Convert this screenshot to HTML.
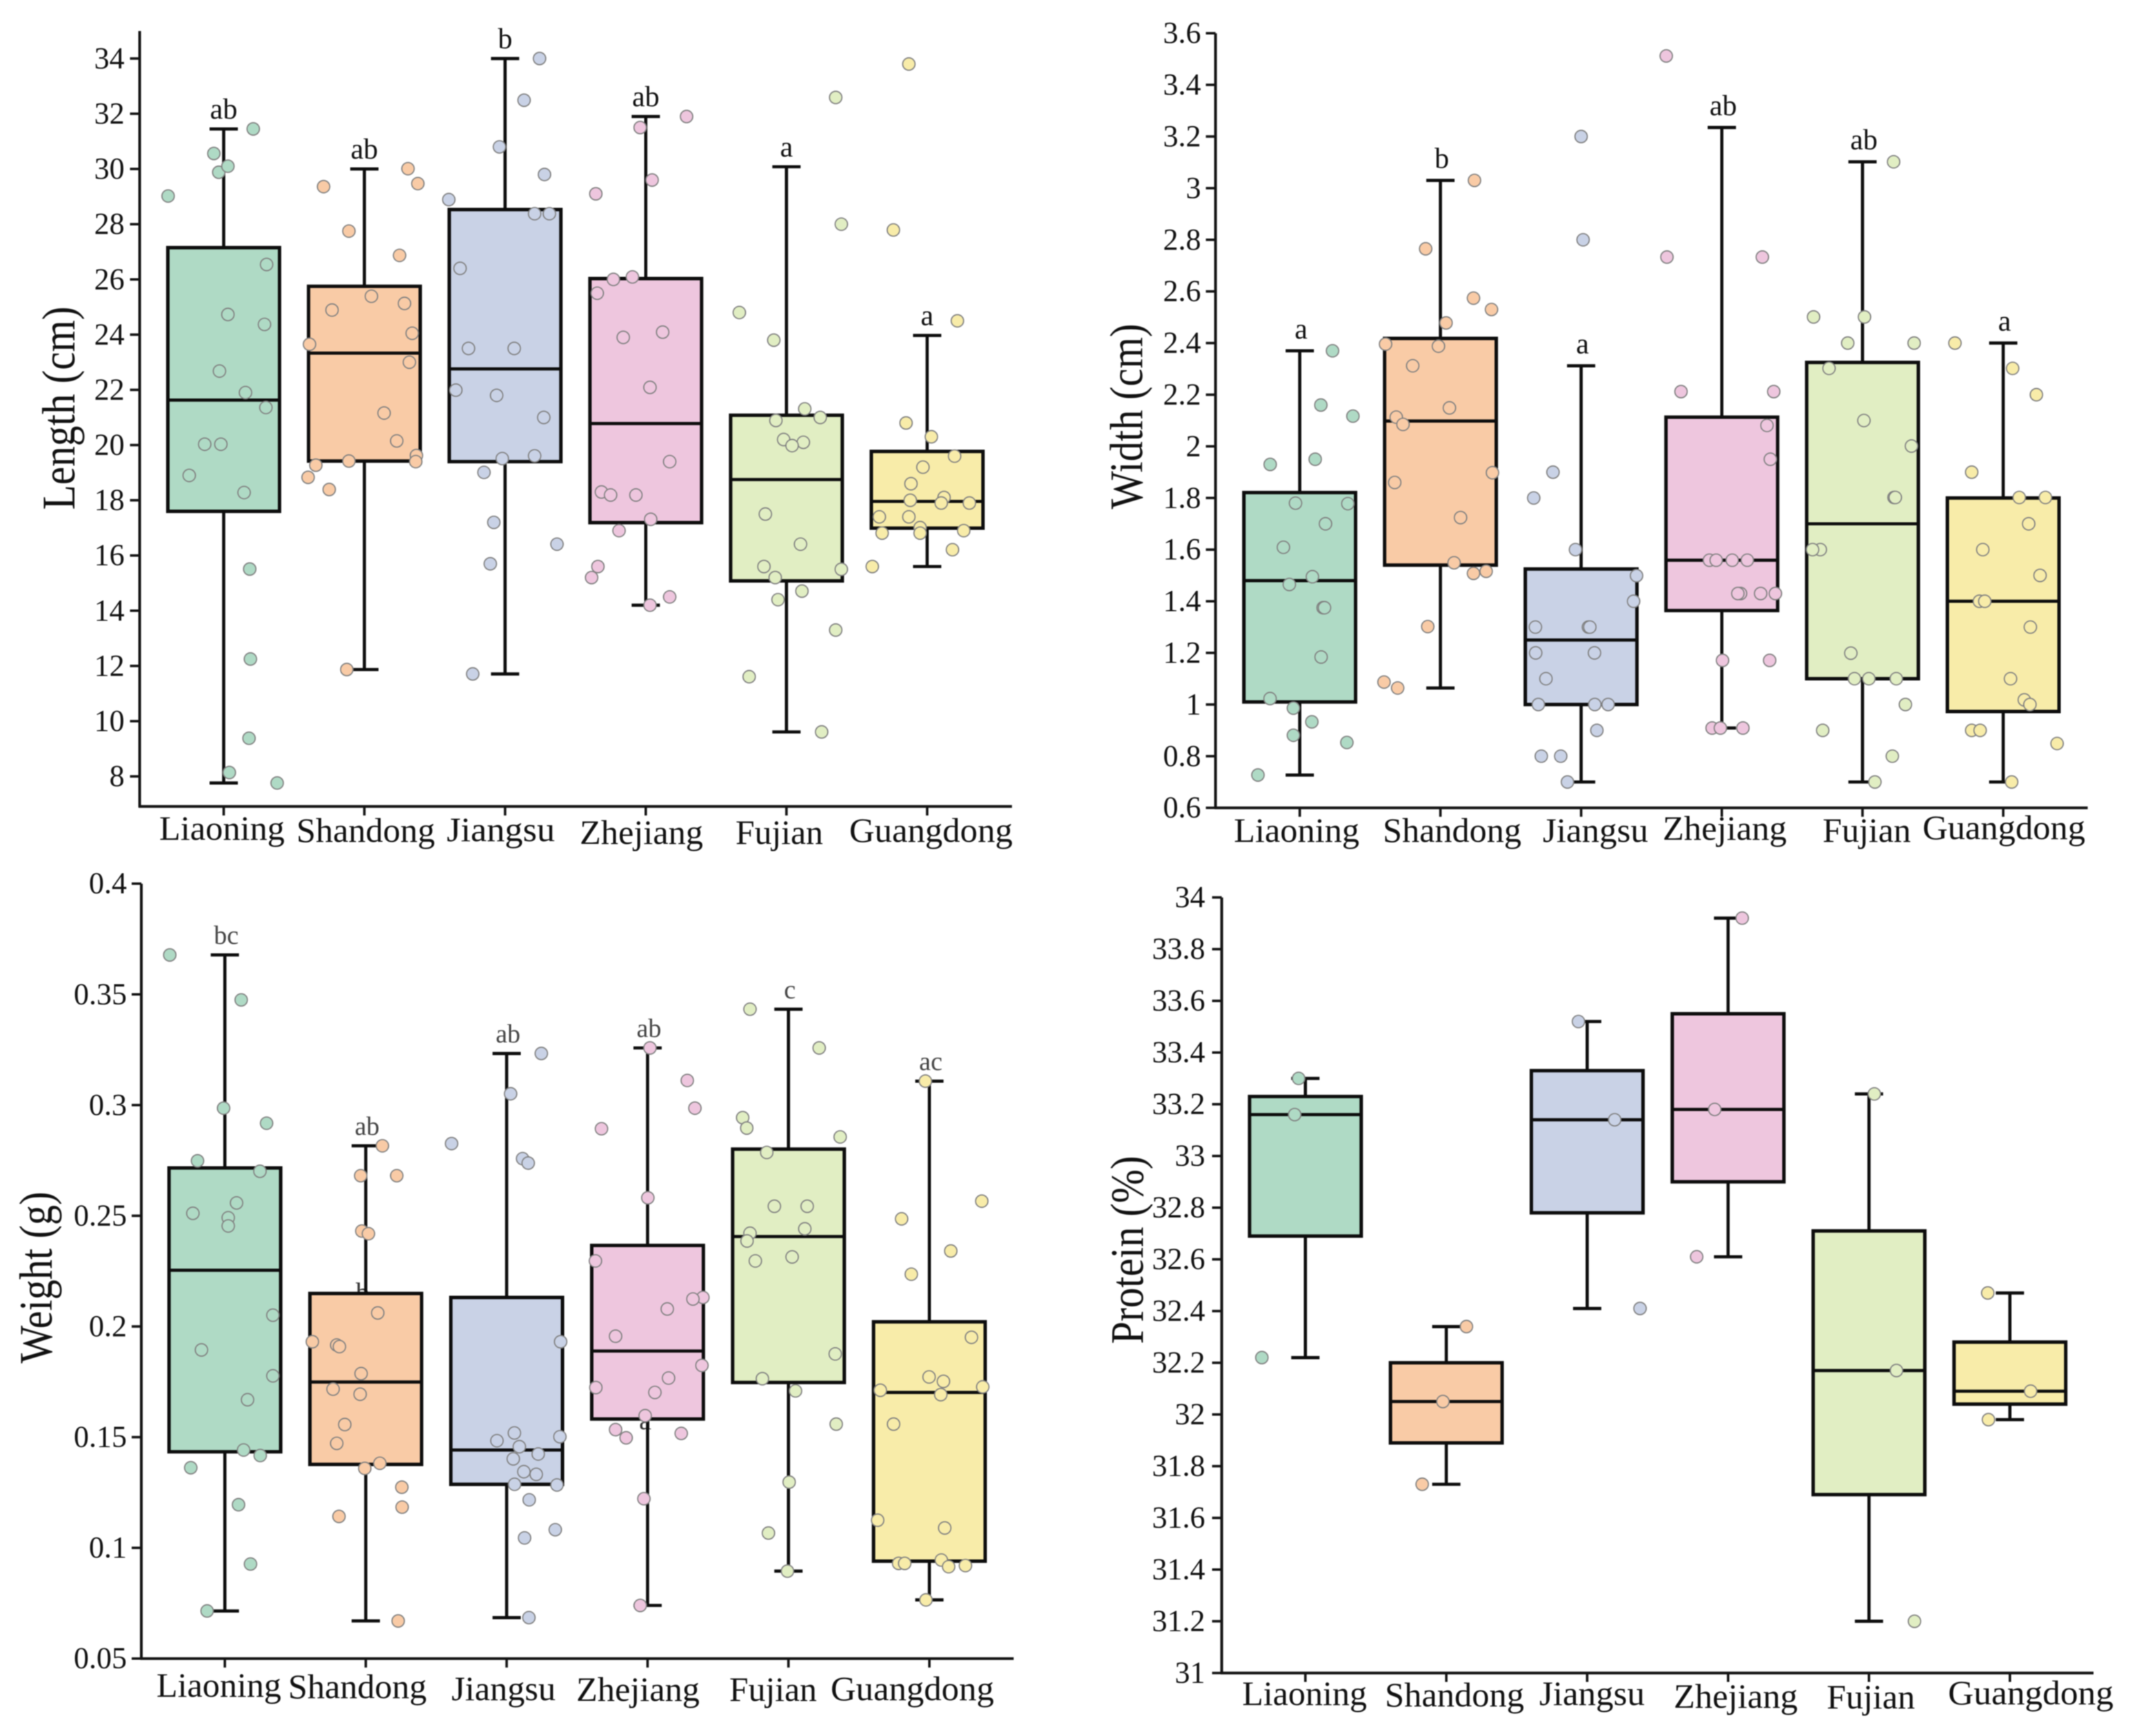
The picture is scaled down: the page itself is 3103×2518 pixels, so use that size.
<!DOCTYPE html>
<html lang="en">
<head>
<meta charset="utf-8">
<title>Box plots of length, width, weight and protein by province</title>
<style>
html,body{margin:0;padding:0;background:#fff;}
svg{display:block;filter:blur(0.7px);}
text{font-family:"Liberation Serif",serif;fill:#111;}
.cat{font-size:50px;text-anchor:start;}
.ytitle{font-size:68px;text-anchor:middle;}
.stray{font-size:40px;text-anchor:middle;fill:#333;}
</style>
</head>
<body>
<svg id="figure" xmlns="http://www.w3.org/2000/svg" width="3103" height="2518" viewBox="0 0 3103 2518">
<rect x="0" y="0" width="3103" height="2518" fill="#ffffff"/>

<g id="panel-length">
<text class="ytitle" transform="translate(108,592) rotate(-90)" textLength="295" lengthAdjust="spacingAndGlyphs">Length (cm)</text>
<text class="cat" x="231" y="1218" textLength="182" lengthAdjust="spacingAndGlyphs">Liaoning</text>
<text class="cat" x="430" y="1221" textLength="201" lengthAdjust="spacingAndGlyphs">Shandong</text>
<text class="cat" x="648" y="1220" textLength="157" lengthAdjust="spacingAndGlyphs">Jiangsu</text>
<text class="cat" x="841" y="1224" textLength="179" lengthAdjust="spacingAndGlyphs">Zhejiang</text>
<text class="cat" x="1067" y="1224" textLength="127" lengthAdjust="spacingAndGlyphs">Fujian</text>
<text class="cat" x="1232" y="1221" textLength="237" lengthAdjust="spacingAndGlyphs">Guangdong</text>
</g>

<g id="panel-width">
<text class="ytitle" transform="translate(1657,604) rotate(-90)" textLength="269" lengthAdjust="spacingAndGlyphs">Width (cm)</text>
<text class="cat" x="1790" y="1221" textLength="182" lengthAdjust="spacingAndGlyphs">Liaoning</text>
<text class="cat" x="2006" y="1221" textLength="201" lengthAdjust="spacingAndGlyphs">Shandong</text>
<text class="cat" x="2238" y="1221" textLength="153" lengthAdjust="spacingAndGlyphs">Jiangsu</text>
<text class="cat" x="2412" y="1218" textLength="180" lengthAdjust="spacingAndGlyphs">Zhejiang</text>
<text class="cat" x="2644" y="1221" textLength="128" lengthAdjust="spacingAndGlyphs">Fujian</text>
<text class="cat" x="2789" y="1217" textLength="236" lengthAdjust="spacingAndGlyphs">Guangdong</text>
</g>

<g id="panel-weight">
<text class="ytitle" transform="translate(75,1853) rotate(-90)" textLength="249" lengthAdjust="spacingAndGlyphs">Weight (g)</text>
<text class="stray" x="526" y="1888">b</text>
<text class="stray" x="936" y="2073">a</text>
<text class="cat" x="227" y="2461" textLength="181" lengthAdjust="spacingAndGlyphs">Liaoning</text>
<text class="cat" x="418" y="2463" textLength="201" lengthAdjust="spacingAndGlyphs">Shandong</text>
<text class="cat" x="655" y="2466" textLength="151" lengthAdjust="spacingAndGlyphs">Jiangsu</text>
<text class="cat" x="836" y="2467" textLength="179" lengthAdjust="spacingAndGlyphs">Zhejiang</text>
<text class="cat" x="1058" y="2467" textLength="127" lengthAdjust="spacingAndGlyphs">Fujian</text>
<text class="cat" x="1205" y="2466" textLength="237" lengthAdjust="spacingAndGlyphs">Guangdong</text>
</g>

<g id="panel-protein">
<text class="ytitle" transform="translate(1658,1813) rotate(-90)" textLength="273" lengthAdjust="spacingAndGlyphs">Protein (%)</text>
<text class="cat" x="1802" y="2473" textLength="181" lengthAdjust="spacingAndGlyphs">Liaoning</text>
<text class="cat" x="2009" y="2475" textLength="202" lengthAdjust="spacingAndGlyphs">Shandong</text>
<text class="cat" x="2233" y="2473" textLength="153" lengthAdjust="spacingAndGlyphs">Jiangsu</text>
<text class="cat" x="2428" y="2477" textLength="180" lengthAdjust="spacingAndGlyphs">Zhejiang</text>
<text class="cat" x="2650" y="2478" textLength="128" lengthAdjust="spacingAndGlyphs">Fujian</text>
<text class="cat" x="2826" y="2472" textLength="240" lengthAdjust="spacingAndGlyphs">Guangdong</text>
</g>
</svg>

<script>
const categories = ["Liaoning","Shandong","Jiangsu","Zhejiang","Fujian","Guangdong"];

/* ---------- Length (cm) ---------- */
const lengthTicks = [8,10,12,14,16,18,20,22,24,26,28,30,32,34];
const lengthQ1 = [17.6,19.42,19.4,17.19,15.08,16.99];
const lengthMedian = [21.63,23.33,22.76,20.78,18.75,17.96];
const lengthQ3 = [27.15,25.75,28.53,26.03,21.08,19.77];
const lengthLow = [7.76,11.87,11.71,14.2,9.61,15.6];
const lengthHigh = [31.45,30.0,34,31.9,30.08,23.97];
const lengthLetters = ["ab","ab","b","ab","a","a"];
const lengthPoints = [
 [29.02,30.56,29.88,30.1,31.45,26.54,24.73,24.37,22.68,21.9,21.36,20.03,20.03,18.9,18.28,15.51,12.25,9.38,8.14,7.76],
 [29.36,30.01,29.47,27.75,26.87,25.39,24.89,25.13,24.05,23.65,23.0,21.16,20.15,19.62,19.4,19.42,19.27,18.83,18.39,11.87],
 [34,32.49,30.8,29.8,28.89,28.38,28.38,26.4,23.5,23.5,21.99,21.8,21.0,19.61,19.51,19.01,17.2,15.7,11.71,16.41],
 [31.9,31.5,29.6,29.1,26.09,26.0,25.5,24.09,23.9,22.09,19.4,18.3,18.19,18.19,17.31,16.9,15.6,15.2,14.5,14.2],
 [32.59,28.0,24.8,23.8,21.31,21.0,20.89,20.2,20.1,19.98,17.5,16.41,15.6,15.5,15.2,14.71,14.4,13.3,11.61,9.61],
 [33.8,27.79,24.5,20.8,20.3,19.6,19.2,18.6,18.0,18.1,17.9,17.9,17.4,17.4,17.01,16.81,16.81,16.9,16.21,15.6]
];
const lengthJitter = [
 [-.395,-.07,-.035,.03,.21,.305,.03,.29,-.03,.155,.30,-.135,-.02,-.245,.145,.185,.19,.18,.04,.38],
 [-.29,.31,.38,-.11,.25,.05,-.23,.285,.34,-.39,.32,.14,.23,.37,.365,-.11,-.345,-.4,-.25,-.125],
 [.245,.135,-.04,.28,-.4,.21,.315,-.32,-.26,.065,-.35,-.06,.275,.21,-.02,-.15,-.08,-.105,-.23,.369],
 [.29,-.04,.045,-.355,-.095,-.23,-.345,.12,-.16,.03,.17,-.315,-.25,-.07,.035,-.19,-.34,-.385,.17,.03],
 [.35,.39,-.335,-.09,.13,.24,-.075,-.02,.12,.04,-.15,.1,-.16,.39,-.08,.11,-.06,.35,-.265,.25],
 [-.13,-.24,.215,-.15,.03,.195,-.03,-.115,-.12,.12,.1,.3,-.34,-.13,-.05,-.05,-.32,.26,.18,-.39]
];

/* ---------- Width (cm) ---------- */
const widthTicks = [0.6,0.8,1,1.2,1.4,1.6,1.8,2,2.2,2.4,2.6,2.8,3,3.2,3.4,3.6];
const widthQ1 = [1.01,1.54,1.0,1.364,1.1,0.973];
const widthMedian = [1.48,2.098,1.25,1.559,1.70,1.4];
const widthQ3 = [1.821,2.418,1.525,2.113,2.325,1.8];
const widthLow = [0.727,1.064,0.7,0.909,0.7,0.7];
const widthHigh = [2.37,3.03,2.312,3.235,3.102,2.4];
const widthLetters = ["a","b","a","ab","ab","a"];
const widthPoints = [
 [1.93,2.37,2.16,2.117,1.95,1.78,1.778,1.70,1.609,1.495,1.465,1.375,1.375,1.184,1.023,.986,.933,.881,.853,.727],
 [3.03,2.765,2.574,2.53,2.478,2.396,2.388,2.312,2.149,2.113,2.085,1.898,1.86,1.724,1.549,1.516,1.508,1.302,1.087,1.064],
 [3.2,2.8,1.9,1.8,1.6,1.3,1.3,1.3,1.2,1.2,1.1,1.0,1.0,1.0,.9,.8,.8,.7,1.499,1.4],
 [3.512,2.733,2.733,2.212,2.212,2.081,1.95,1.559,1.559,1.559,1.559,1.43,1.43,1.43,1.43,1.171,1.171,.909,.909,.909],
 [3.102,2.501,2.501,2.4,2.4,2.302,2.1,2.001,1.802,1.802,1.6,1.6,1.199,1.1,1.1,1.1,1.0,.9,.8,.7],
 [2.4,2.302,2.2,1.9,1.802,1.802,1.7,1.6,1.5,1.4,1.4,1.3,1.1,1.018,1.0,.9,.9,.849,.7]
];
const widthJitter = [
 [-.21,.233,.15,.378,.11,-.03,.342,.183,-.116,.09,-.074,.166,.176,.152,-.211,-.045,.086,-.045,.335,-.297],
 [.242,-.105,.235,.363,.04,-.39,-.014,-.197,.064,-.314,-.266,.37,-.325,.143,.097,.325,.235,-.09,-.401,-.304],
 [0,.014,-.2,-.337,-.04,-.325,.052,.062,-.323,.095,-.25,-.304,.097,.192,.112,-.283,-.145,-.097,.394,.373],
 [-.395,-.39,.288,-.29,.369,.321,.345,-.088,-.04,.074,.181,.133,.114,.276,.381,.005,.34,-.069,-.01,.15],
 [.221,-.348,.014,-.105,.367,-.238,.01,.348,.224,.233,-.3,-.355,-.083,-.057,.045,.24,.305,-.283,.212,.088],
 [-.343,.067,.236,-.224,.114,.3,.181,-.145,.262,-.169,-.131,.193,.052,.15,.19,-.224,-.164,.383,.06]
];

/* ---------- Weight (g) ---------- */
const weightTicks = [0.05,0.1,0.15,0.2,0.25,0.3,0.35,0.4];
const weightQ1 = [.1434,.1377,.1287,.1582,.1747,.094];
const weightMedian = [.2254,.1749,.1442,.1889,.2406,.1702];
const weightQ3 = [.2716,.2149,.2131,.2366,.2801,.2021];
const weightLow = [.0715,.067,.0685,.074,.0895,.0765];
const weightHigh = [.3678,.2816,.3233,.3258,.3433,.3108];
const weightLetters = ["bc","ab","ab","ab","c","ac"];
const weightPoints = [
 [.3678,.3475,.2986,.2918,.2748,.2701,.2558,.2511,.2491,.2454,.2051,.1894,.1777,.1669,.1442,.1417,.1362,.1195,.0927,.0715],
 [.2816,.2681,.2681,.2431,.2419,.2061,.1931,.1916,.1909,.1787,.1717,.1694,.1557,.1472,.1382,.1359,.1274,.1184,.1142,.067],
 [.2826,.3051,.2758,.3233,.2738,.1484,.1519,.1457,.1402,.1424,.1344,.1332,.1287,.1284,.1502,.1931,.1217,.1082,.1045,.0685],
 [.3258,.3111,.2986,.2893,.2581,.2296,.2131,.2124,.2079,.1956,.1824,.1767,.1724,.1702,.1597,.1534,.1497,.1517,.1222,.074],
 [.3433,.3258,.2943,.2896,.2856,.2786,.2543,.2543,.2441,.2421,.2386,.2296,.2314,.1876,.1764,.1709,.1559,.1297,.1067,.0895],
 [.3108,.2566,.2486,.2341,.2236,.1951,.1772,.1752,.1712,.1727,.1692,.1559,.1125,.109,.0945,.093,.093,.0915,.092,.0765]
];
const weightJitter = [
 [-.391,.116,-.009,.296,-.194,.249,.083,-.227,.024,.024,.341,-.166,.341,.161,.133,.251,-.242,.097,.182,-.126],
 [.118,-.036,.22,-.028,.019,.085,-.379,-.206,-.187,-.033,-.232,-.04,-.149,-.206,.1,-.007,.256,.258,-.19,.23],
 [-.391,.028,.113,.246,.153,-.069,.055,.09,.047,.224,.122,.21,.056,.357,.378,.383,.16,.345,.127,.158],
 [.017,.282,.336,-.327,.002,-.37,.393,.322,.14,-.227,.386,.149,-.367,.052,-.017,-.227,-.152,.239,-.026,-.052],
 [-.273,.218,-.325,-.296,.367,-.154,-.1,.133,.116,-.273,-.294,-.235,.026,.332,-.185,.05,.339,.005,-.142,-.007],
 [-.028,.372,-.197,.152,-.128,.299,-.002,.1,-.348,.379,.081,-.254,-.367,.109,.085,-.218,-.175,.137,.256,-.024]
];

/* ---------- Protein (%) ---------- */
const proteinTicks = [31,31.2,31.4,31.6,31.8,32,32.2,32.4,32.6,32.8,33,33.2,33.4,33.6,33.8,34];
const proteinQ1 = [32.69,31.89,32.78,32.9,31.69,32.04];
const proteinMedian = [33.16,32.05,33.14,33.18,32.17,32.09];
const proteinQ3 = [33.23,32.2,33.33,33.55,32.71,32.28];
const proteinLow = [32.22,31.73,32.41,32.61,31.2,31.98];
const proteinHigh = [33.3,32.34,33.52,33.92,33.24,32.47];
const proteinLetters = ["","","","","",""];
const proteinPoints = [
 [33.3,33.16,32.22],
 [32.34,32.05,31.73],
 [33.52,33.14,32.41],
 [33.92,33.18,32.61],
 [33.24,32.17,31.2],
 [32.47,32.09,31.98]
];
const proteinJitter = [
 [-.048,-.076,-.309],
 [.143,-.024,-.171],
 [-.062,.195,.375],
 [.1,-.095,-.223],
 [.038,.195,.323],
 [-.157,.147,-.152]
];

const boxFills = ["#afdac5","#f9cba6","#c9d2e6","#eec6de","#e1eec3","#f8eca9"];
const SVGNS = "http://www.w3.org/2000/svg";
const ink = "#0d0d0d";

function shape(parent, tag, attrs){
  const el = document.createElementNS(SVGNS, tag);
  for (const k in attrs) el.setAttribute(k, attrs[k]);
  parent.appendChild(el);
  return el;
}
function linearScale(d0, d1, r0, r1){
  return function(v){ return r0 + (v - d0) * (r1 - r0) / (d1 - d0); };
}
function bandScale(first, step){
  return function(i){ return first + i * step; };
}

function drawPanel(cfg){
  const root = document.getElementById(cfg.id);
  const y = linearScale(cfg.d0, cfg.d1, cfg.r0, cfg.r1);
  const x = bandScale(cfg.firstX, cfg.stepX);

  const marks = shape(root, "g", {});
  
  

  categories.forEach(function(cat, i){
    const key = cat.toLowerCase();
    const cx = x(i);
    const g = shape(marks, "g", {});
    
    

    const whisker = shape(g, "line", {x1:cx, x2:cx, y1:y(cfg.high[i]), y2:y(cfg.low[i]), stroke:ink, "stroke-width":4.6});
    
    

    const capHigh = shape(g, "line", {x1:cx-20.5, x2:cx+20.5, y1:y(cfg.high[i]), y2:y(cfg.high[i]), stroke:ink, "stroke-width":4.6});
    
    

    const capLow = shape(g, "line", {x1:cx-20.5, x2:cx+20.5, y1:y(cfg.low[i]), y2:y(cfg.low[i]), stroke:ink, "stroke-width":4.6});
    
    

    const box = shape(g, "rect", {x:cx-81, width:162, y:y(cfg.q3[i]), height:y(cfg.q1[i])-y(cfg.q3[i]), fill:boxFills[i], stroke:ink, "stroke-width":5});
    
    

    const med = shape(g, "line", {x1:cx-81, x2:cx+81, y1:y(cfg.median[i]), y2:y(cfg.median[i]), stroke:ink, "stroke-width":4.6});
    
    

    if (cfg.letters[i]) {
      const lab = shape(g, "text", {x:cx+cfg.letterDx, y:y(cfg.high[i])-cfg.letterGap, "text-anchor":"middle", "font-size":cfg.letterSize});
      lab.textContent = cfg.letters[i];
      lab.setAttribute('style', 'fill:' + cfg.letterColor);
      
      
    }
  });

  categories.forEach(function(cat, i){
    const key = cat.toLowerCase();
    cfg.points[i].forEach(function(v, j){
      const dot = shape(marks, "circle", {cx:x(i + cfg.jitter[i][j]), cy:y(v), r:9, fill:boxFills[i], stroke:"#808080", "stroke-width":1.7});
      
      
    });
  });

  const axes = shape(root, "g", {});
  
  

  const yAxis = shape(axes, "line", {x1:cfg.axisX, x2:cfg.axisX, y1:cfg.axisTop, y2:cfg.axisBottom+1.5, stroke:"#141414", "stroke-width":4});
  
  

  const xAxis = shape(axes, "line", {x1:cfg.axisX-1.5, x2:cfg.axisRight, y1:cfg.axisBottom, y2:cfg.axisBottom, stroke:"#141414", "stroke-width":4});
  
  

  cfg.ticks.forEach(function(t){
    const tk = shape(axes, "line", {x1:cfg.axisX-14, x2:cfg.axisX, y1:y(t), y2:y(t), stroke:"#141414", "stroke-width":3.6});
    
    

    const lab = shape(axes, "text", {x:cfg.axisX-cfg.tickGap, y:y(t)+14, "text-anchor":"end", "font-size":cfg.tickSize});
    lab.textContent = String(t);
    
    
  });

  categories.forEach(function(cat, i){
    const tk = shape(axes, "line", {x1:x(i), x2:x(i), y1:cfg.axisBottom, y2:cfg.axisBottom+13, stroke:"#141414", "stroke-width":3.6});
    
    
  });
}

drawPanel({id:"panel-length", d0:8, d1:34, r0:1126.1, r1:84.9, firstX:324.5, stepX:204.1,
  axisX:202.6, axisTop:45, axisBottom:1169.8, axisRight:1468, tickGap:22, tickSize:44,
  letterDx:0, letterGap:15, letterSize:42, letterColor:"#111",
  ticks:lengthTicks, q1:lengthQ1, median:lengthMedian, q3:lengthQ3, low:lengthLow, high:lengthHigh,
  letters:lengthLetters, points:lengthPoints, jitter:lengthJitter});

drawPanel({id:"panel-width", d0:0.6, d1:3.6, r0:1171.7, r1:48.2, firstX:1885.5, stepX:204.1,
  axisX:1763.3, axisTop:48.2, axisBottom:1171.7, axisRight:3028.6, tickGap:21, tickSize:44,
  letterDx:2, letterGap:18, letterSize:42, letterColor:"#111",
  ticks:widthTicks, q1:widthQ1, median:widthMedian, q3:widthQ3, low:widthLow, high:widthHigh,
  letters:widthLetters, points:widthPoints, jitter:widthJitter});

drawPanel({id:"panel-weight", d0:0.05, d1:0.4, r0:2405.7, r1:1281.7, firstX:326.2, stepX:204.4,
  axisX:205, axisTop:1281.7, axisBottom:2405.7, axisRight:1470.5, tickGap:21, tickSize:44,
  letterDx:2, letterGap:16, letterSize:38, letterColor:"#444",
  ticks:weightTicks, q1:weightQ1, median:weightMedian, q3:weightQ3, low:weightLow, high:weightHigh,
  letters:weightLetters, points:weightPoints, jitter:weightJitter});

drawPanel({id:"panel-protein", d0:31, d1:34, r0:2426.6, r1:1301.7, firstX:1893.7, stepX:204.4,
  axisX:1772.3, axisTop:1301.7, axisBottom:2426.6, axisRight:3037, tickGap:24, tickSize:44,
  letterDx:0, letterGap:14, letterSize:42, letterColor:"#111",
  ticks:proteinTicks, q1:proteinQ1, median:proteinMedian, q3:proteinQ3, low:proteinLow, high:proteinHigh,
  letters:proteinLetters, points:proteinPoints, jitter:proteinJitter});
</script>
</body>
</html>
